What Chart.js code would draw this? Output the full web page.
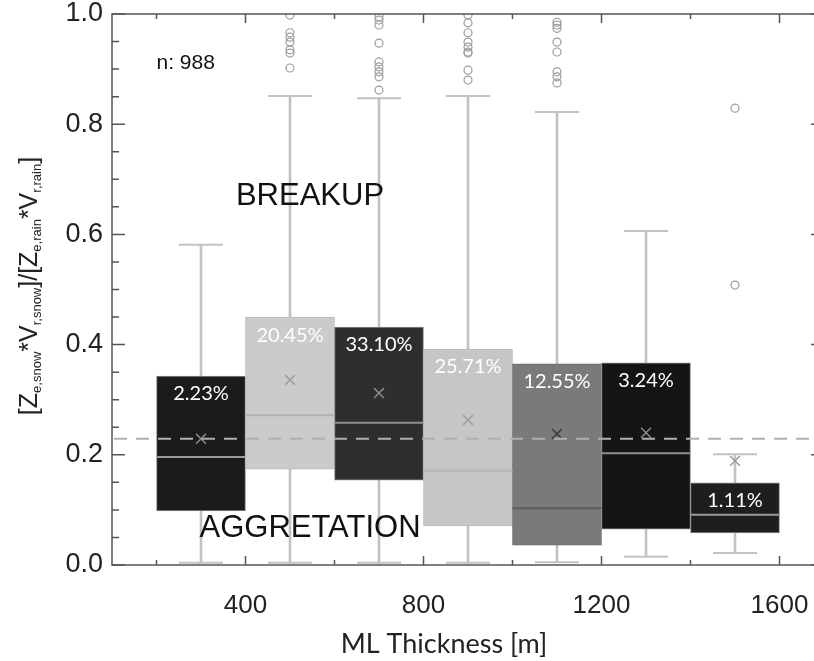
<!DOCTYPE html>
<html>
<head>
<meta charset="utf-8">
<script src="https://cdn.jsdelivr.net/npm/chart.js@4.4.1/dist/chart.umd.min.js"></script>
<style>
  html, body { margin: 0; padding: 0; background: #fff; overflow: hidden; }
  canvas { display: block; }
</style>
</head>
<body>
<canvas id="chart" width="826" height="661"></canvas>
<script>
// bins of ML thickness (bin centres, m)
const bins = [300, 500, 700, 900, 1100, 1300, 1500];
const q1 = [0.098, 0.174, 0.154, 0.071, 0.036, 0.065, 0.058];
const q3 = [0.343, 0.450, 0.432, 0.392, 0.365, 0.367, 0.149];
const medians = [0.196, 0.272, 0.258, 0.171, 0.103, 0.203, 0.091];
const means = [0.229, 0.336, 0.312, 0.263, 0.238, 0.240, 0.189];
const whiskerLow = [0.004, 0.004, 0.004, 0.004, 0.005, 0.015, 0.022];
const whiskerHigh = [0.581, 0.851, 0.847, 0.851, 0.822, 0.606, 0.201];
const shares = ["2.23%", "20.45%", "33.10%", "25.71%", "12.55%", "3.24%", "1.11%"];
const outliers = [
  [],
  [0.998, 0.966, 0.958, 0.949, 0.935, 0.929, 0.902],
  [0.995, 0.989, 0.980, 0.947, 0.913, 0.904, 0.895, 0.886, 0.862],
  [0.998, 0.984, 0.966, 0.949, 0.940, 0.931, 0.929, 0.898, 0.880],
  [0.985, 0.980, 0.974, 0.949, 0.931, 0.895, 0.886, 0.875],
  [],
  [0.829, 0.508]
];
const overallMean = [0.229];
const sampleCount = 988;
const xTicks = [200, 400, 600, 800, 1000, 1200, 1400, 1600];
const xLabels = ["", "400", "", "800", "", "1200", "", "1600"];

// styles
const boxColors = ["#1b1b1b", "#cbcbcb", "#2e2e2e", "#c6c6c6", "#7a7a7a", "#151515", "#1e1e1e"];
const boxEdges = ["#8c8c8c", "#b8b8b8", "#8c8c8c", "#b8b8b8", "#6a6a6a", "#8c8c8c", "#8c8c8c"];
const medianColors = ["#9a9a9a", "#b2b2b2", "#8f8f8f", "#b6b6b6", "#5c5c5c", "#8f8f8f", "#9a9a9a"];
const meanColors = ["#8a8a8a", "#999999", "#8a8a8a", "#9e9e9e", "#3a3a3a", "#8a8a8a", "#9a9a9a"];
const whiskerColor = "#c2c2c2";

const outlierPoints = [];
outliers.forEach((list, i) => list.forEach(v => outlierPoints.push({ x: bins[i], y: v })));

const capPoints = [];
bins.forEach((b, i) => {
  capPoints.push({ x: b, y: whiskerLow[i] });
  capPoints.push({ x: b, y: whiskerHigh[i] });
});

const decor = {
  id: "decor",
  afterDatasetsDraw(chart) {
    const ctx = chart.ctx;
    const xs = chart.scales.x, ys = chart.scales.y;
    const area = chart.chartArea;
    ctx.save();

    // overall mean dashed line
    const ym = ys.getPixelForValue(overallMean[0]);
    ctx.strokeStyle = "#b0b0b0";
    ctx.lineWidth = 2;
    ctx.setLineDash([13, 9]);
    ctx.beginPath();
    ctx.moveTo(xs.getPixelForValue(xs.min) + 2, ym);
    ctx.lineTo(xs.getPixelForValue(xs.max), ym);
    ctx.stroke();
    ctx.setLineDash([]);

    // share labels inside boxes
    ctx.fillStyle = "#ffffff";
    ctx.font = "20px Lato";
    ctx.textAlign = "center";
    ctx.textBaseline = "middle";
    bins.forEach((b, i) => {
      ctx.fillText(shares[i], xs.getPixelForValue(b), ys.getPixelForValue(q3[i]) + 18);
    });

    // annotations
    ctx.fillStyle = "#111";
    ctx.font = "21px 'Liberation Sans', Arial";
    ctx.textAlign = "left";
    ctx.fillText("n: " + sampleCount, xs.getPixelForValue(200), ys.getPixelForValue(0.911));
    ctx.font = "31px 'Liberation Sans', Arial";
    ctx.textAlign = "center";
    ctx.fillText("BREAKUP", xs.getPixelForValue(545), ys.getPixelForValue(0.668));
    ctx.fillText("AGGRETATION", xs.getPixelForValue(545), ys.getPixelForValue(0.067));

    // frame and inward ticks
    ctx.strokeStyle = "#555";
    ctx.lineWidth = 1.5;
    ctx.strokeRect(area.left, area.top, area.right - area.left, area.bottom - area.top);
    ctx.beginPath();
    ys.ticks.forEach(t => {
      const k = Math.round(t.value * 100);
      if (k % 5 !== 0) return;
      const len = k % 20 === 0 ? 13 : 7;
      const y = ys.getPixelForValue(t.value);
      ctx.moveTo(area.left, y); ctx.lineTo(area.left + len, y);
      ctx.moveTo(area.right, y); ctx.lineTo(area.right - len, y);
    });
    xs.ticks.forEach(t => {
      const len = t.value % 400 === 0 ? 9 : 5;
      const x = xs.getPixelForValue(t.value);
      ctx.moveTo(x, area.bottom); ctx.lineTo(x, area.bottom - len);
      ctx.moveTo(x, area.top); ctx.lineTo(x, area.top + len);
    });
    ctx.stroke();

    // x title
    ctx.fillStyle = "#222";
    ctx.font = "27px Lato";
    ctx.textAlign = "center";
    ctx.textBaseline = "middle";
    ctx.fillText("ML Thickness [m]", 444, 644);

    // y title with subscripts
    const parts = [
      ["[Z", false], ["e,snow", true], ["*V", false], ["r,snow", true],
      ["]/[Z", false], ["e,rain", true], ["*V", false], ["r,rain", true], ["]", false]
    ];
    const mainFont = "25px 'Liberation Sans', Arial";
    const subFont = "13px 'Liberation Sans', Arial";
    let total = 0;
    parts.forEach(p => { ctx.font = p[1] ? subFont : mainFont; total += ctx.measureText(p[0]).width; });
    ctx.translate(37, 286);
    ctx.rotate(-Math.PI / 2);
    ctx.textAlign = "left";
    ctx.textBaseline = "alphabetic";
    let cx = -total / 2;
    parts.forEach(p => {
      ctx.font = p[1] ? subFont : mainFont;
      ctx.fillText(p[0], cx, p[1] ? 4 : 0);
      cx += ctx.measureText(p[0]).width;
    });
    ctx.restore();
  }
};

const chartCtx = document.getElementById("chart").getContext("2d");

const chart = new Chart(chartCtx, {
  type: "bar",
  data: {
    datasets: [
      {
        type: "bar",
        data: bins.map((b, i) => ({ x: b, y: [whiskerLow[i], whiskerHigh[i]] })),
        backgroundColor: whiskerColor,
        barThickness: 2,
        grouped: false,
        order: 10
      },
      {
        type: "bar",
        data: bins.map((b, i) => ({ x: b, y: [q1[i], q3[i]] })),
        backgroundColor: boxColors,
        borderColor: boxEdges,
        borderWidth: 1,
        borderSkipped: false,
        barPercentage: 1,
        categoryPercentage: 1,
        grouped: false,
        order: 9
      },
      {
        type: "line",
        data: capPoints,
        showLine: false,
        pointStyle: "line",
        pointRadius: 22,
        pointBorderColor: whiskerColor,
        pointBorderWidth: 2,
        order: 6
      },
      {
        type: "line",
        data: bins.map((b, i) => ({ x: b, y: medians[i] })),
        showLine: false,
        pointStyle: "line",
        pointRadius: 44.5,
        pointBorderColor: medianColors,
        pointBorderWidth: 2,
        order: 5
      },
      {
        type: "line",
        data: bins.map((b, i) => ({ x: b, y: means[i] })),
        showLine: false,
        pointStyle: "crossRot",
        pointRadius: 7,
        pointBorderColor: meanColors,
        pointBorderWidth: 1.5,
        order: 4
      },
      {
        type: "line",
        data: outlierPoints,
        showLine: false,
        pointStyle: "circle",
        pointRadius: 4,
        pointBackgroundColor: "rgba(0,0,0,0)",
        pointBorderColor: "#9c9c9c",
        pointBorderWidth: 1.2,
        clip: 0,
        order: 3
      }
    ]
  },
  options: {
    responsive: false,
    animation: false,
    layout: { autoPadding: false, padding: { top: 14, right: 2, left: 0, bottom: 0 } },
    plugins: { legend: { display: false }, tooltip: { enabled: false } },
    scales: {
      x: {
        type: "linear",
        min: 100,
        max: 1700,
        offset: false,
        grid: { display: false, drawTicks: false },
        border: { display: false },
        afterBuildTicks: s => { s.ticks = xTicks.map(v => ({ value: v })); },
        ticks: {
          autoSkip: false,
          maxRotation: 0,
          padding: 25,
          color: "#222",
          font: { family: "'Liberation Sans', Arial", size: 26 },
          callback: (v, i) => xLabels[i]
        },
        afterFit: s => { s.height = 96; s.paddingLeft = 0; s.paddingRight = 0; }
      },
      y: {
        min: 0,
        max: 1,
        grid: { display: false, drawTicks: false },
        border: { display: false },
        ticks: {
          stepSize: 0.05,
          autoSkip: false,
          padding: 9,
          color: "#222",
          font: { family: "'Liberation Sans', Arial", size: 27 },
          callback: v => (Math.round(v * 100) % 20 === 0 ? v.toFixed(1) : "")
        },
        afterFit: s => { s.width = 112; s.paddingTop = 0; s.paddingBottom = 0; }
      }
    }
  },
  plugins: [decor]
});
</script>
</body>
</html>
